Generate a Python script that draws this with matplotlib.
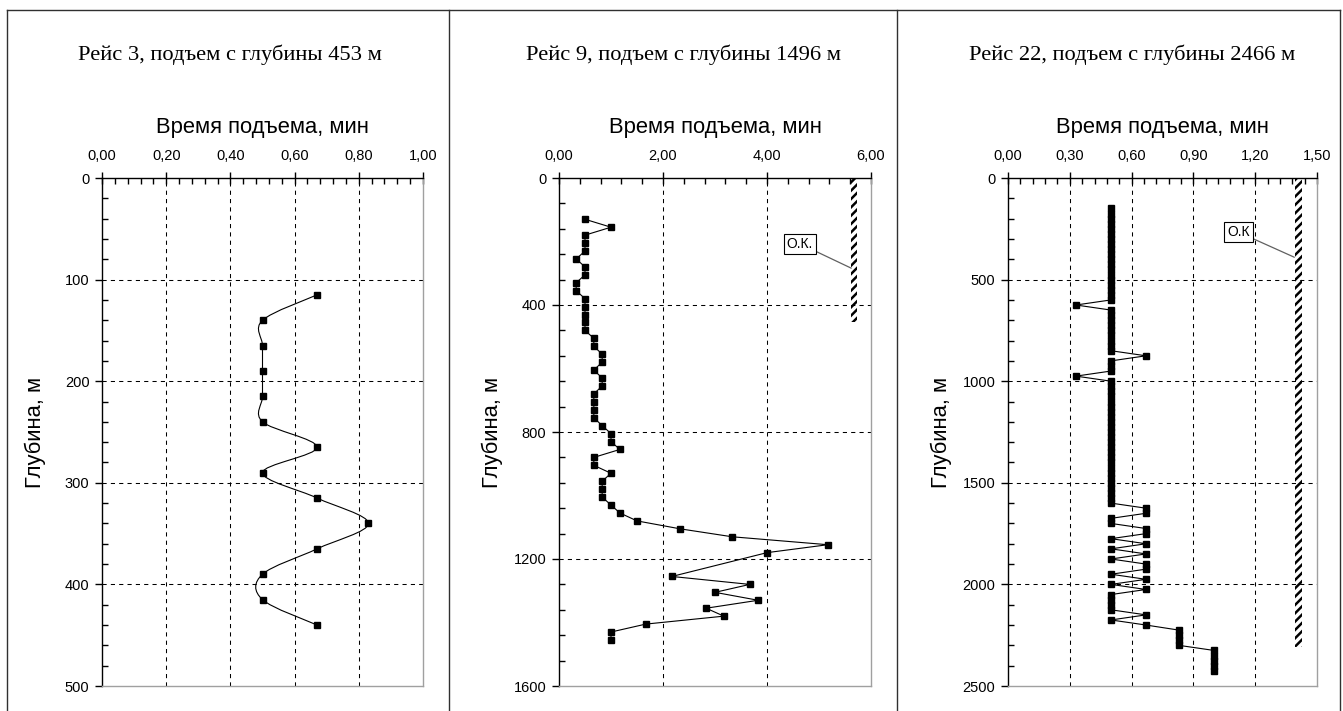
"""Time of ascent vs depth for three trips, with casing (O.K.) depth marks."""
import matplotlib
matplotlib.use("Agg")
import matplotlib.pyplot as plt
from matplotlib.lines import Line2D
from matplotlib.patches import Rectangle, PathPatch
from matplotlib.path import Path
from matplotlib.ticker import MultipleLocator, FuncFormatter

plt.rcParams["font.family"] = ["Liberation Sans", "DejaVu Sans"]
plt.rcParams["hatch.linewidth"] = 1.8

W, H = 1343, 711

# trip 3, ascent from 453 m
DEPTH_3 = [115, 140, 165, 190, 215, 240, 265, 290, 315, 340, 365, 390, 415, 440]
TIME_3 = [0.67, 0.5, 0.5, 0.5, 0.5, 0.5, 0.67, 0.5, 0.67, 0.83, 0.67, 0.5, 0.5, 0.67]

# trip 9, ascent from 1496 m
DEPTH_9 = [130, 155, 180, 205, 230, 255, 280, 305, 330, 355, 380, 405, 430, 455,
           480, 505, 530, 555, 580, 605, 630, 655, 680, 705, 730, 755, 780, 805,
           830, 855, 880, 905, 930, 955, 980, 1005, 1030, 1055, 1080, 1105, 1130,
           1155, 1180, 1255, 1280, 1305, 1330, 1355, 1380, 1405, 1430, 1455]
TIME_9 = [0.5, 1.0, 0.5, 0.5, 0.5, 0.33, 0.5, 0.5, 0.33, 0.33, 0.5, 0.5, 0.5, 0.5,
          0.5, 0.67, 0.67, 0.83, 0.83, 0.67, 0.83, 0.83, 0.67, 0.67, 0.67, 0.67, 0.83, 1.0,
          1.0, 1.17, 0.67, 0.67, 1.0, 0.83, 0.83, 0.83, 1.0, 1.17, 1.5, 2.33, 3.33,
          5.17, 4.0, 2.17, 3.67, 3.0, 3.83, 2.83, 3.17, 1.67, 1.0, 1.0]

# trip 22, ascent from 2466 m
DEPTH_22 = [150, 175, 200, 225, 250, 275, 300, 325, 350, 375, 400, 425, 450, 475,
            500, 525, 550, 575, 600, 625, 650, 675, 700, 725, 750, 775, 800, 825,
            850, 875, 900, 925, 950, 975, 1000, 1025, 1050, 1075, 1100, 1125, 1150,
            1175, 1200, 1225, 1250, 1275, 1300, 1325, 1350, 1375, 1400, 1425, 1450,
            1475, 1500, 1525, 1550, 1575, 1600, 1625, 1650, 1675, 1700, 1725, 1750,
            1775, 1800, 1825, 1850, 1875, 1900, 1925, 1950, 1975, 2000, 2025, 2050,
            2075, 2100, 2125, 2150, 2175, 2200, 2225, 2250, 2275, 2300, 2325, 2350,
            2375, 2400, 2425]
TIME_22 = [0.5, 0.5, 0.5, 0.5, 0.5, 0.5, 0.5, 0.5, 0.5, 0.5, 0.5, 0.5, 0.5, 0.5,
           0.5, 0.5, 0.5, 0.5, 0.5, 0.33, 0.5, 0.5, 0.5, 0.5, 0.5, 0.5, 0.5, 0.5,
           0.5, 0.67, 0.5, 0.5, 0.5, 0.33, 0.5, 0.5, 0.5, 0.5, 0.5, 0.5, 0.5,
           0.5, 0.5, 0.5, 0.5, 0.5, 0.5, 0.5, 0.5, 0.5, 0.5, 0.5, 0.5,
           0.5, 0.5, 0.5, 0.5, 0.5, 0.5, 0.67, 0.67, 0.5, 0.5, 0.67, 0.67,
           0.5, 0.67, 0.5, 0.67, 0.5, 0.67, 0.67, 0.5, 0.67, 0.5, 0.67, 0.5,
           0.5, 0.5, 0.5, 0.67, 0.5, 0.67, 0.83, 0.83, 0.83, 0.83, 1.0, 1.0,
           1.0, 1.0, 1.0]

# casing shoe (O.K.) marks: (time position, bottom depth)
OK_9 = (5.68, 455)
OK_22 = (1.41, 2310)

TITLES = ["Рейс 3, подъем с глубины 453 м",
          "Рейс 9, подъем с глубины 1496 м",
          "Рейс 22, подъем с глубины 2466 м"]
XLABEL = "Время подъема, мин"
YLABEL = "Глубина, м"


def px_axes(fig, left, top, right, bottom):
    return fig.add_axes([left / W, 1 - bottom / H, (right - left) / W, (bottom - top) / H])


def style(ax, xmax, xmaj, xmin, ymax, ymaj, ymin, width_px):
    ax.set_xlim(0, xmax)
    ax.set_ylim(ymax, 0)
    ax.xaxis.tick_top()
    ax.xaxis.set_label_position("top")
    ax.xaxis.set_major_locator(MultipleLocator(xmaj))
    ax.xaxis.set_minor_locator(MultipleLocator(xmin))
    ax.yaxis.set_major_locator(MultipleLocator(ymaj))
    ax.yaxis.set_minor_locator(MultipleLocator(ymin))
    ax.xaxis.set_major_formatter(FuncFormatter(lambda v, p: f"{v:.2f}".replace(".", ",")))
    ax.yaxis.set_major_formatter(FuncFormatter(lambda v, p: f"{v:.0f}"))
    ax.tick_params(axis="x", which="major", direction="inout", length=8, width=1,
                   pad=7, labelsize=10.5)
    ax.tick_params(axis="x", which="minor", direction="in", length=4, width=1)
    ax.tick_params(axis="y", which="major", direction="out", length=5, width=1,
                   pad=4, labelsize=10.5)
    ax.tick_params(axis="y", which="minor", direction="in", length=4, width=1)
    for s in ("top", "left"):
        ax.spines[s].set_color("black")
        ax.spines[s].set_linewidth(1)
    for s in ("right", "bottom"):
        ax.spines[s].set_color("#a0a0a0")
        ax.spines[s].set_linewidth(1)
    # interior dashed grid only, edges stay solid
    v = xmaj
    while v < xmax - 1e-9:
        ax.axvline(v, color="black", lw=0.75, ls=(0, (4, 4)), zorder=0.5)
        v += xmaj
    v = ymaj
    while v < ymax - 1e-9:
        ax.axhline(v, color="black", lw=0.75, ls=(0, (4, 4)), zorder=0.5)
        v += ymaj
    ax.set_xlabel(XLABEL, fontsize=15.8, labelpad=11)
    ax.set_ylabel(YLABEL, fontsize=15.8)
    ax.yaxis.set_label_coords(-56 / width_px, 0.5)


def smooth_path(xs, ys):
    """Cubic Bezier through all points (spreadsheet-style smoothed line)."""
    pts = list(zip(xs, ys))
    verts = [pts[0]]
    codes = [Path.MOVETO]
    n = len(pts)
    for i in range(n - 1):
        p0 = pts[i - 1] if i > 0 else pts[i]
        p1, p2 = pts[i], pts[i + 1]
        p3 = pts[i + 2] if i + 2 < n else pts[i + 1]
        c1 = (p1[0] + (p2[0] - p0[0]) / 6, p1[1] + (p2[1] - p0[1]) / 6)
        c2 = (p2[0] - (p3[0] - p1[0]) / 6, p2[1] - (p3[1] - p1[1]) / 6)
        verts += [c1, c2, p2]
        codes += [Path.CURVE4] * 3
    return Path(verts, codes)


def casing(ax, ok, half_w, label, xy, xytext):
    x, bottom = ok
    ax.add_patch(Rectangle((x - half_w, 0), 2 * half_w, bottom, facecolor="none",
                           edgecolor="black", lw=0, hatch="////", zorder=3))
    ax.annotate(label, xy=xy, xytext=xytext, fontsize=10, ha="center", va="center",
                bbox=dict(boxstyle="square,pad=0.22", fc="white", ec="black", lw=0.8),
                arrowprops=dict(arrowstyle="-", color="#606060", lw=0.9,
                                shrinkA=0, shrinkB=0), zorder=4)


fig = plt.figure(figsize=(W / 100, H / 100), dpi=100)

ax1 = px_axes(fig, 102, 178, 423, 686)
ax2 = px_axes(fig, 559, 178, 871, 686)
ax3 = px_axes(fig, 1008, 178, 1317, 686)

style(ax1, 1.0, 0.2, 0.04, 500, 100, 20, 321)
style(ax2, 6.0, 2.0, 0.4, 1600, 400, 80, 312)
style(ax3, 1.5, 0.3, 0.06, 2500, 500, 100, 309)

ax1.add_patch(PathPatch(smooth_path(TIME_3, DEPTH_3), facecolor="none",
                        edgecolor="black", lw=0.8, zorder=2))
ax1.plot(TIME_3, DEPTH_3, ls="none", marker="s", ms=5, color="black", zorder=3)

ax2.plot(TIME_9, DEPTH_9, "-s", color="black", lw=0.8, ms=5, zorder=2)
casing(ax2, OK_9, 0.06, "О.К.", (5.62, 284), (4.63, 207))

ax3.plot(TIME_22, DEPTH_22, "-s", color="black", lw=0.8, ms=5, zorder=2)
casing(ax3, OK_22, 0.019, "О.К", (1.39, 390), (1.12, 267))

for cx, t in zip([230, 684, 1132], TITLES):
    fig.text(cx / W, 1 - 55 / H, t, ha="center", va="center", fontsize=16.2,
             family="Liberation Serif")

# panel frame and separators
frame = dict(transform=fig.transFigure, color="#303030", lw=1)
fig.add_artist(Line2D([7 / W, 1340 / W], [1 - 10 / H, 1 - 10 / H], **frame))
fig.add_artist(Line2D([7 / W, 7 / W], [0, 1 - 10 / H], **frame))
fig.add_artist(Line2D([1340 / W, 1340 / W], [0, 1 - 10 / H], **frame))
for xs in (449, 897):
    fig.add_artist(Line2D([xs / W, xs / W], [0, 1 - 10 / H], **frame))

fig.savefig("out.png", dpi=100, facecolor="white")
